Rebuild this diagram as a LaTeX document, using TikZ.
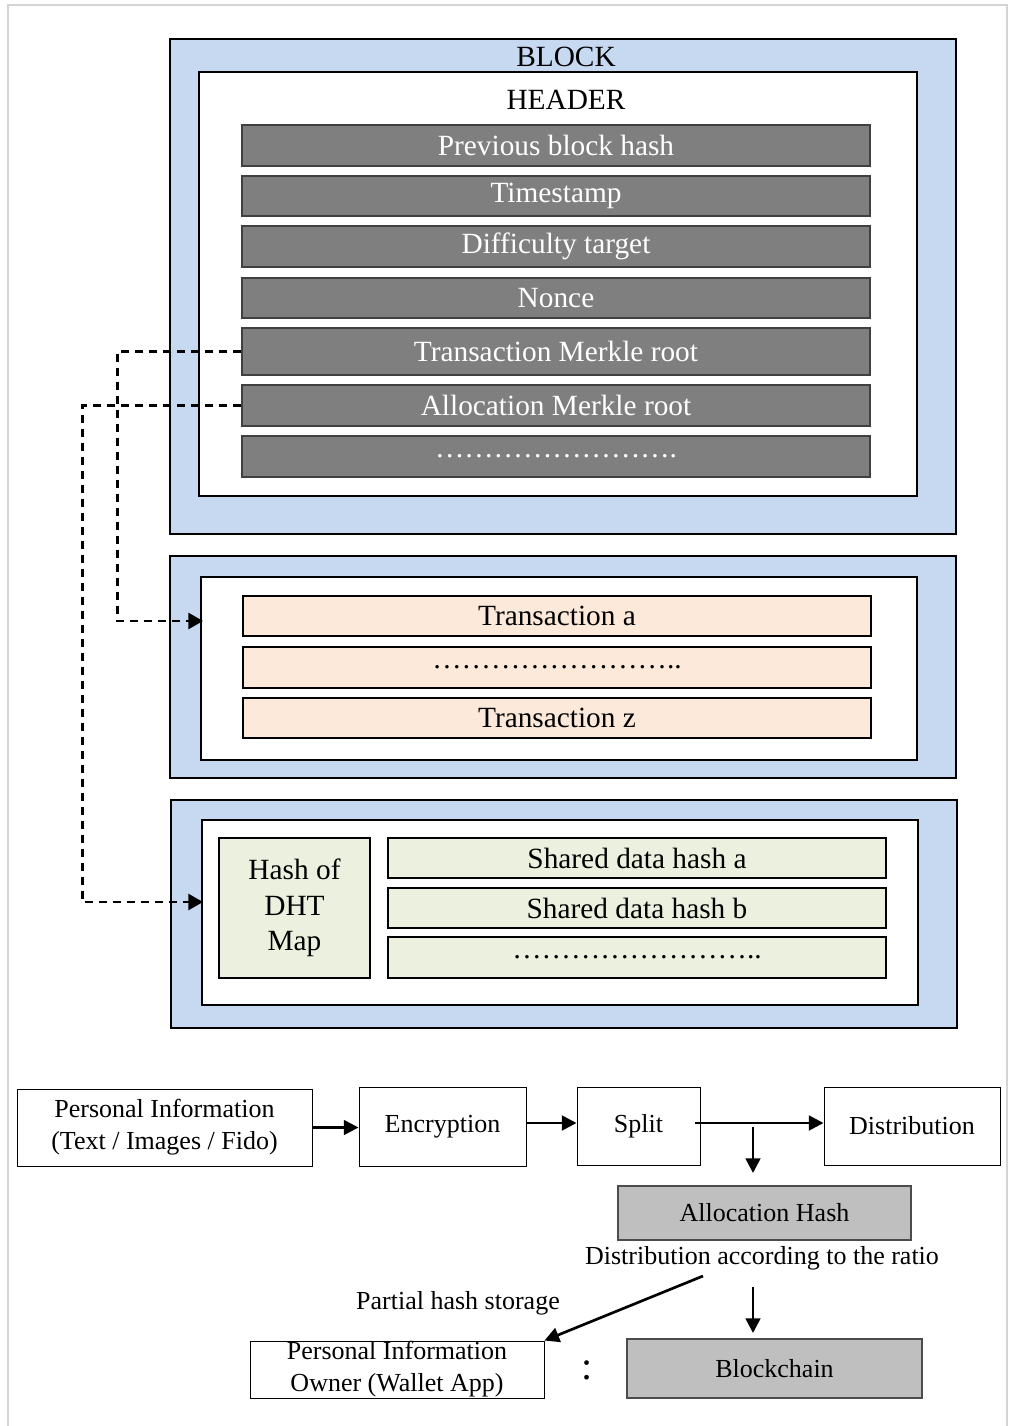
\documentclass[tikz,border=0pt]{standalone}
\usepackage{fontspec}
\setmainfont{Liberation Serif}
\usetikzlibrary{arrows.meta}

\definecolor{blockblue}{HTML}{C6D9F1}
\definecolor{hdgray}{HTML}{7F7F7F}
\definecolor{txpeach}{HTML}{FDE9D9}
\definecolor{shgreen}{HTML}{EBF1DE}
\definecolor{hashgray}{HTML}{BFBFBF}
\definecolor{framegray}{HTML}{D4D4D4}

\newcommand{\rowfont}{\fontsize{22}{26}\selectfont}
\newcommand{\flowfont}{\fontsize{19.5}{24}\selectfont}

\begin{document}
\begin{tikzpicture}[x=0.75pt,y=-0.75pt,
	sized/.style 2 args={minimum width=#1*0.75pt, minimum height=#2*0.75pt},
	outline/.style={draw=black, line width=0.9pt, inner sep=0pt},
	bluebox/.style={outline, fill=blockblue},
	whitebox/.style={outline, fill=white},
	hdrow/.style={draw=black!75, line width=0.8pt, fill=hdgray, inner sep=0pt, text=white, font=\rowfont},
	txrow/.style={outline, line width=0.8pt, fill=txpeach, font=\rowfont},
	shrow/.style={outline, line width=0.8pt, fill=shgreen, font=\rowfont},
	flowbox/.style={outline, line width=0.7pt, fill=white, font=\flowfont, align=center},
	hashbox/.style={outline, line width=1pt, draw=black!70, fill=hashgray, font=\flowfont},
	dashlink/.style={line width=2pt, dash pattern=on 6pt off 4.5pt, -{Triangle[length=11pt,width=12pt]}},
	flowarrow/.style={line width=2pt, -{Triangle[length=11pt,width=11pt]}}]
	\useasboundingbox (0,0) rectangle (1013,1426);
	\draw[framegray, line width=1.5pt] (8,1426) -- (8,5) -- (1007,5) -- (1007,1426);

	% block with its header
	\node[bluebox, sized={786}{495}] (block) at (563,286.5) {};
	\node[whitebox, sized={718}{424}] (header) at (558,284) {};
	\node[font=\rowfont] (blocktitle) at (566,57) {BLOCK};
	\node[font=\rowfont] (headertitle) at (566,100) {HEADER};
	\node[hdrow, sized={628}{41}] (prevhash) at (556,145.5) {Previous block hash};
	\node[hdrow, sized={628}{40}] (timestamp) at (556,196) {Timestamp};
	\node[hdrow, sized={628}{41}] (difficulty) at (556,246.5) {Difficulty target};
	\node[hdrow, sized={628}{40}] (nonce) at (556,298) {Nonce};
	\node[hdrow, sized={628}{47}] (txroot) at (556,351.5) {Transaction Merkle root};
	\node[hdrow, sized={628}{41}] (alroot) at (556,405.5) {Allocation Merkle root};
	\node[hdrow, sized={628}{41}] (hdmore) at (556,456.5) {…………………….};

	% transactions
	\node[bluebox, sized={786}{222}] (txblock) at (563,667) {};
	\node[whitebox, sized={716}{183}] (txbody) at (559,668.5) {};
	\node[txrow, sized={628}{40}] (txa) at (557,616) {Transaction a};
	\node[txrow, sized={628}{41}] (txmore) at (557,667.5) {……………………..};
	\node[txrow, sized={628}{40}] (txz) at (557,718) {Transaction z};

	% shared data
	\node[bluebox, sized={786}{228}] (shblock) at (564,914) {};
	\node[whitebox, sized={716}{185}] (shbody) at (560,912.5) {};
	\node[shrow, sized={151}{140}, align=center, font=\fontsize{22}{26.5}\selectfont] (dhtmap) at (294.5,908) {Hash of\\DHT\\Map};
	\node[shrow, sized={498}{40}] (sha) at (637,858) {Shared data hash a};
	\node[shrow, sized={498}{40}] (shb) at (637,908) {Shared data hash b};
	\node[shrow, sized={498}{41}] (shmore) at (637,957.5) {……………………..};

	% merkle root links
	\coordinate (txin) at (203,621);
	\coordinate (shin) at (203,902);
	\draw[dashlink] (txroot.west) -- ++(-124,0) |- (txin);
	\draw[dashlink] (alroot.west) -- ++(-159,0) |- (shin);

	% data flow
	\node[flowbox, sized={295}{77}] (pinfo) at (164.5,1127.5) {Personal Information\\(Text / Images / Fido)};
	\node[flowbox, sized={167}{79}] (encrypt) at (442.5,1126.5) {Encryption};
	\node[flowbox, sized={123}{78}] (split) at (638.5,1126) {Split};
	\node[flowbox, sized={176}{78}] (distrib) at (912,1126) {Distribution};
	\node[hashbox, sized={293}{54}] (allochash) at (764.5,1213) {Allocation Hash};
	\node[font=\flowfont] (ratio) at (762,1258) {Distribution according to the ratio};
	\node[font=\flowfont] (partial) at (458,1303) {Partial hash storage};
	\node[flowbox, sized={294}{57}] (owner) at (397,1369.5) {Personal Information\\Owner (Wallet App)};
	\node[font=\fontsize{30}{30}\selectfont] (sep) at (587,1370) {:};
	\node[hashbox, sized={295}{59}] (chain) at (774.5,1368.5) {Blockchain};

	\coordinate (fork) at (753,1127);
	\coordinate (hashin) at (753,1173);
	\coordinate (ratioout) at (703,1276);
	\coordinate (chainout) at (753,1287);
	\coordinate (chainin) at (753,1333);
	\draw[flowarrow] (pinfo.east) -- (encrypt.west |- pinfo.east);
	\draw[flowarrow] (encrypt.east |- 0,1123) -- (split.west |- 0,1123);
	\draw[flowarrow] (695,1123) -- (distrib.west |- 0,1123);
	\draw[flowarrow] (fork) -- (hashin);
	\draw[flowarrow] (ratioout) -- (owner.north east);
	\draw[flowarrow] (chainout) -- (chainin);
\end{tikzpicture}
\end{document}
